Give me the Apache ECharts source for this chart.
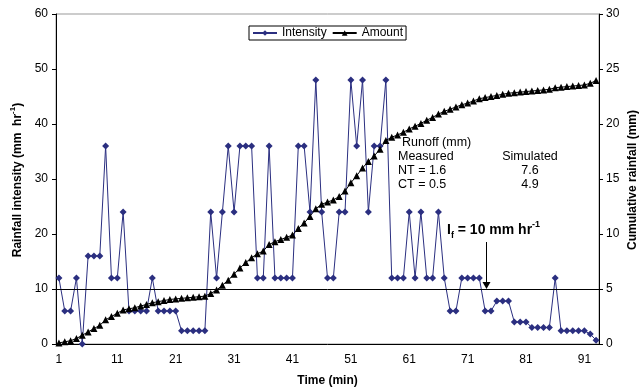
<!DOCTYPE html>
<html><head><meta charset="utf-8">
<script src="https://cdn.jsdelivr.net/npm/echarts@6/dist/echarts.min.js"></script>
<style>html,body{margin:0;padding:0;background:#fff}#c{width:641px;height:392px}</style>
</head><body><div id="c"></div>
<script>
var minutes = [];
for (var i = 1; i <= 93; i++) minutes.push(String(i));
var intensity = [12,6,6,12,0,16,16,16,36,12,12,24,6,6,6,6,12,6,6,6,6,2.4,2.4,2.4,2.4,2.4,24,12,24,36,
  24,36,36,36,12,12,36,12,12,12,12,36,36,24,48,24,12,12,24,24,48,36,48,24,36,36,48,12,12,12,
  24,12,24,12,12,24,12,6,6,12,12,12,12,6,6,7.8,7.8,7.8,4,4,4,3,3,3,3,12,2.4,2.4,2.4,2.4,
  2.4,1.8,0.7];
var amount = [0.1,0.2,0.3,0.5,0.8,1.1,1.4,1.7,2.2,2.5,2.8,3.1,3.2,3.3,3.45,3.6,3.75,3.85,3.95,4.05,
  4.1,4.15,4.2,4.25,4.3,4.35,4.6,4.9,5.35,5.8,6.35,6.9,7.4,7.85,8.2,8.45,9.05,9.3,9.5,9.7,
  9.9,10.5,11.0,11.6,12.3,12.7,12.9,13.1,13.4,13.9,14.65,15.3,16.0,16.6,17.1,17.7,18.5,18.8,19.0,19.25,
  19.55,19.8,20.05,20.35,20.6,20.9,21.15,21.35,21.55,21.75,21.9,22.1,22.3,22.4,22.5,22.6,22.7,22.8,22.85,22.9,
  22.95,23.0,23.05,23.1,23.15,23.3,23.35,23.4,23.45,23.5,23.55,23.7,23.95];
var thresholdIntensity = 10;
var runoffTitle = 'Runoff (mm)';
var runoffRows = [['Measured','Simulated'],['NT = 1.6','7.6'],['CT = 0.5','4.9']];

var FF = '"Liberation Sans", Arial, sans-serif';
var chart = echarts.init(document.getElementById('c'), null, {renderer:'canvas'});

var graphics = [];
graphics.push({type:'text', left:402, top:136, style:{text:runoffTitle, font:'12.5px '+FF, fill:'#000'}});
var rowY = [156.7, 170.5, 184.3];
runoffRows.forEach(function(r, k){
  graphics.push({type:'text', style:{text:r[0], x:398, y:rowY[k], font:'12.5px '+FF, fill:'#000', align:'left', verticalAlign:'middle', textAlign:'left', textVerticalAlign:'middle'}});
  graphics.push({type:'text', style:{text:r[1], x:530, y:rowY[k], font:'12.5px '+FF, fill:'#000', align:'center', verticalAlign:'middle', textAlign:'center', textVerticalAlign:'middle'}});
});
graphics.push({type:'text', style:{
  text:'{a|I}{s|f}{a| = 10 mm hr}{p|-1}', x:447, y:230, align:'left', verticalAlign:'middle', textAlign:'left', textVerticalAlign:'middle',
  rich:{
    a:{fontFamily:FF, fontSize:14, fontWeight:'bold', lineHeight:20, fill:'#000', color:'#000'},
    s:{fontFamily:FF, fontSize:9, fontWeight:'bold', lineHeight:9, verticalAlign:'bottom', fill:'#000', color:'#000'},
    p:{fontFamily:FF, fontSize:9, fontWeight:'bold', lineHeight:9, verticalAlign:'top', fill:'#000', color:'#000'}
  }}});
graphics.push({type:'line', shape:{x1:486.5, y1:242, x2:486.5, y2:283}, style:{stroke:'#000', lineWidth:1}});
graphics.push({type:'polygon', shape:{points:[[482.5,282],[490.5,282],[486.5,289]]}, style:{fill:'#000'}});
// axis titles
graphics.push({type:'text', x:18, y:180, rotation:Math.PI/2, style:{
  text:'{a|Rainfall intensity (mm  hr}{p|-1}{a|)}', align:'center', verticalAlign:'middle', textAlign:'center', textVerticalAlign:'middle',
  rich:{
    a:{fontFamily:FF, fontSize:12, fontWeight:'bold', lineHeight:18, fill:'#000', color:'#000'},
    p:{fontFamily:FF, fontSize:8, fontWeight:'bold', lineHeight:8, verticalAlign:'top', fill:'#000', color:'#000'}
  }}});
graphics.push({type:'text', x:633, y:180, rotation:Math.PI/2, style:{
  text:'Cumulative rainfall (mm)', font:'bold 12px '+FF, fill:'#000',
  align:'center', verticalAlign:'middle', textAlign:'center', textVerticalAlign:'middle'}});

chart.setOption({
  animation:false,
  backgroundColor:'#fff',
  textStyle:{fontFamily:FF},
  grid:{left:56, right:42, top:14, bottom:47, show:true, borderColor:'#999', borderWidth:1, backgroundColor:'#fff'},
  legend:{
    data:['Intensity','Amount'], left:249, top:26, orient:'horizontal',
    borderColor:'#000', borderWidth:1, padding:[1,3,1,3], itemGap:5, itemWidth:24, itemHeight:7,
    textStyle:{fontFamily:FF, fontSize:12, color:'#000'}
  },
  xAxis:{
    type:'category', data:minutes, boundaryGap:true,
    axisLine:{lineStyle:{color:'#000', width:1}},
    axisTick:{interval:9, length:4, lineStyle:{color:'#000'}},
    axisLabel:{interval:9, margin:10, fontSize:12, color:'#000', fontFamily:FF},
    splitLine:{show:false},
    name:'Time (min)', nameLocation:'middle', nameGap:31,
    nameTextStyle:{fontFamily:FF, fontSize:12, fontWeight:'bold', color:'#000'}
  },
  yAxis:[{
    type:'value', min:0, max:60, interval:10, position:'left',
    axisLine:{show:true, lineStyle:{color:'#000', width:1}},
    axisTick:{show:true, length:4, lineStyle:{color:'#000'}},
    axisLabel:{margin:8, fontSize:12, color:'#000', fontFamily:FF},
    splitLine:{show:false}
  },{
    type:'value', min:0, max:30, interval:5, position:'right',
    axisLine:{show:true, lineStyle:{color:'#000', width:1}},
    axisTick:{show:true, length:4, lineStyle:{color:'#000'}},
    axisLabel:{margin:7, fontSize:12, color:'#000', fontFamily:FF},
    splitLine:{show:false}
  }],
  series:[{
    name:'Intensity', type:'line', data:intensity, yAxisIndex:0,
    symbol:'diamond', symbolSize:7, showAllSymbol:true,
    itemStyle:{color:'#2B2F80'}, lineStyle:{color:'#2B2F80', width:1},
    markLine:{silent:true, symbol:['none','none'], label:{show:false},
      lineStyle:{color:'#000', width:1, type:'solid'}, data:[{yAxis:thresholdIntensity}]}
  },{
    name:'Amount', type:'line', data:amount, yAxisIndex:1,
    symbol:'triangle', symbolSize:7, showAllSymbol:true,
    itemStyle:{color:'#000'}, lineStyle:{color:'#000', width:1}
  }],
  graphic:graphics
});
</script></body></html>
